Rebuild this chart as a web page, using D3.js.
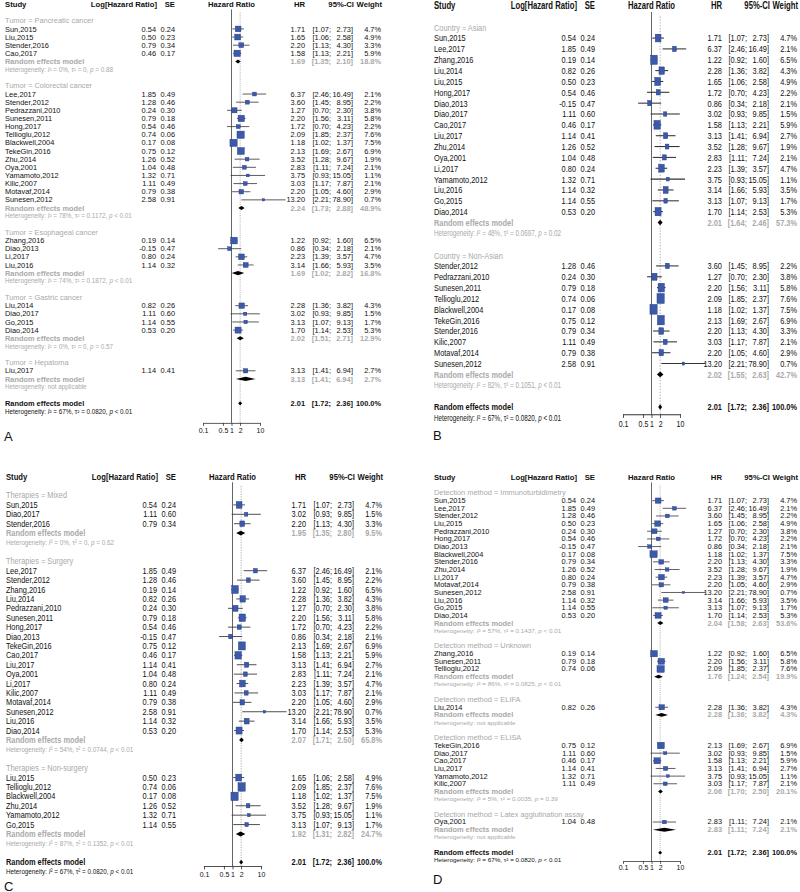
<!DOCTYPE html>
<html>
<head>
<meta charset="utf-8">
<script src="https://cdn.jsdelivr.net/npm/d3@7"></script>
<style>
body { margin: 0; background: #fff; }
svg { display: block; font-family: "Liberation Sans", Arial, sans-serif; }
</style>
</head>
<body>
<svg id="main" width="800" height="892"></svg>
<script>
// study level values, the same in all four panels
var studies = ["Sun,2015", "Liu,2015", "Stender,2016", "Cao,2017", "Lee,2017", "Stender,2012",
    "Pedrazzani,2010", "Sunesen,2011", "Hong,2017", "Tellioglu,2012", "Blackwell,2004", "TekeGin,2016",
    "Zhu,2014", "Oya,2001", "Yamamoto,2012", "Kilic,2007", "Motavaf,2014", "Sunesen,2012",
    "Zhang,2016", "Diao,2013", "Li,2017", "Liu,2016", "Liu,2014", "Diao,2017", "Go,2015",
    "Diao,2014", "Liu,2017"];
var logHR = [0.54, 0.50, 0.79, 0.46, 1.85, 1.28, 0.24, 0.79, 0.54, 0.74, 0.17, 0.75, 1.26, 1.04,
    1.32, 1.11, 0.79, 2.58, 0.19, -0.15, 0.80, 1.14, 0.82, 1.11, 1.14, 0.53, 1.14];
var seLogHR = [0.24, 0.23, 0.34, 0.17, 0.49, 0.46, 0.30, 0.18, 0.46, 0.06, 0.08, 0.12, 0.52, 0.48,
    0.71, 0.49, 0.38, 0.91, 0.14, 0.47, 0.24, 0.32, 0.26, 0.60, 0.55, 0.20, 0.41];
var hrValues = [1.71, 1.65, 2.20, 1.58, 6.37, 3.60, 1.27, 2.20, 1.72, 2.09, 1.18, 2.13, 3.52, 2.83,
    3.75, 3.03, 2.20, 13.20, 1.22, 0.86, 2.23, 3.14, 2.28, 3.02, 3.13, 1.70, 3.13];
var ciLower = [1.07, 1.06, 1.13, 1.13, 2.46, 1.45, 0.70, 1.56, 0.70, 1.85, 1.02, 1.69, 1.28, 1.11,
    0.93, 1.17, 1.05, 2.21, 0.92, 0.34, 1.39, 1.66, 1.36, 0.93, 1.07, 1.14, 1.41];
var ciUpper = [2.73, 2.58, 4.30, 2.21, 16.49, 8.95, 2.30, 3.11, 4.23, 2.37, 1.37, 2.67, 9.67, 7.24,
    15.05, 7.87, 4.60, 78.90, 1.60, 2.18, 3.57, 5.93, 3.82, 9.85, 9.13, 2.53, 6.94];
var weights = [4.7, 4.9, 3.3, 5.9, 2.1, 2.2, 3.8, 5.8, 2.2, 7.6, 7.5, 6.9, 1.9, 2.1, 1.1, 2.1, 2.9,
    0.7, 6.5, 2.1, 4.7, 3.5, 4.3, 1.5, 1.7, 5.3, 2.7];

var axisTicks = [0.1, 0.5, 1, 2, 10];

// overall random effects model: HR, lower, upper, weight ; heterogeneity I2, tau2, p
var overallPooled = [2.01, 1.72, 2.36, 100.0];
var overallHet = ["67%", "0.0820", "< 0.01"];

// A: tumor
var tumorGroups = ["Pancreatic cancer", "Colorectal cancer", "Esophageal cancer", "Gastric cancer", "Hepatoma"];
var tumorMembers = [
    ["Sun,2015", "Liu,2015", "Stender,2016", "Cao,2017"],
    ["Lee,2017", "Stender,2012", "Pedrazzani,2010", "Sunesen,2011", "Hong,2017", "Tellioglu,2012",
     "Blackwell,2004", "TekeGin,2016", "Zhu,2014", "Oya,2001", "Yamamoto,2012", "Kilic,2007",
     "Motavaf,2014", "Sunesen,2012"],
    ["Zhang,2016", "Diao,2013", "Li,2017", "Liu,2016"],
    ["Liu,2014", "Diao,2017", "Go,2015", "Diao,2014"],
    ["Liu,2017"]];
var tumorPooled = [[1.69, 1.35, 2.10, 18.8], [2.24, 1.73, 2.88, 48.9], [1.69, 1.02, 2.82, 16.8],
    [2.02, 1.51, 2.71, 12.9], [3.13, 1.41, 6.94, 2.7]];
var tumorHet = [["0%", "0", "= 0.88"], ["78%", "0.1172", "< 0.01"], ["74%", "0.1872", "< 0.01"],
    ["0%", "0", "= 0.57"], null];

// B: country
var countryGroups = ["Asian", "Non-Asian"];
var countryMembers = [
    ["Sun,2015", "Lee,2017", "Zhang,2016", "Liu,2014", "Liu,2015", "Hong,2017", "Diao,2013",
     "Diao,2017", "Cao,2017", "Liu,2017", "Zhu,2014", "Oya,2001", "Li,2017", "Yamamoto,2012",
     "Liu,2016", "Go,2015", "Diao,2014"],
    ["Stender,2012", "Pedrazzani,2010", "Sunesen,2011", "Tellioglu,2012", "Blackwell,2004",
     "TekeGin,2016", "Stender,2016", "Kilic,2007", "Motavaf,2014", "Sunesen,2012"]];
var countryPooled = [[2.01, 1.64, 2.46, 57.3], [2.02, 1.55, 2.63, 42.7]];
var countryHet = [["48%", "0.0697", "= 0.02"], ["82%", "0.1051", "< 0.01"]];

// C: therapies
var therapyGroups = ["Mixed", "Surgery", "Non-surgery"];
var therapyMembers = [
    ["Sun,2015", "Diao,2017", "Stender,2016"],
    ["Lee,2017", "Stender,2012", "Zhang,2016", "Liu,2014", "Pedrazzani,2010", "Sunesen,2011",
     "Hong,2017", "Diao,2013", "TekeGin,2016", "Cao,2017", "Liu,2017", "Oya,2001", "Li,2017",
     "Kilic,2007", "Motavaf,2014", "Sunesen,2012", "Liu,2016", "Diao,2014"],
    ["Liu,2015", "Tellioglu,2012", "Blackwell,2004", "Zhu,2014", "Yamamoto,2012", "Go,2015"]];
var therapyPooled = [[1.95, 1.35, 2.80, 9.5], [2.07, 1.71, 2.50, 65.8], [1.92, 1.31, 2.82, 24.7]];
var therapyHet = [["0%", "0", "= 0.62"], ["54%", "0.0744", "< 0.01"], ["87%", "0.1352", "< 0.01"]];

// D: detection method
var methodGroups = ["Immunoturbidimetry", "Unknown", "ELIFA", "ELISA", "Latex agglutination assay"];
var methodMembers = [
    ["Sun,2015", "Lee,2017", "Stender,2012", "Liu,2015", "Pedrazzani,2010", "Hong,2017",
     "Diao,2013", "Blackwell,2004", "Stender,2016", "Zhu,2014", "Li,2017", "Motavaf,2014",
     "Sunesen,2012", "Liu,2016", "Go,2015", "Diao,2014"],
    ["Zhang,2016", "Sunesen,2011", "Tellioglu,2012"],
    ["Liu,2014"],
    ["TekeGin,2016", "Diao,2017", "Cao,2017", "Liu,2017", "Yamamoto,2012", "Kilic,2007"],
    ["Oya,2001"]];
var methodPooled = [[2.04, 1.58, 2.63, 53.6], [1.76, 1.24, 2.54, 19.9], [2.28, 1.36, 3.82, 4.3],
    [2.06, 1.70, 2.50, 20.1], [2.83, 1.11, 7.24, 2.1]];
var methodHet = [["57%", "0.1437", "< 0.01"], ["86%", "0.0825", "< 0.01"], null,
    ["5%", "0.0035", "= 0.39"], null];

var ROW_H = 8.14;
var GRAY = "#a9a9a9";

// placement of the four panels on the page (cols = HR, CI lower, CI upper, weight right edges)
var panels = [
    {letter: "A", name: "Tumor", groups: tumorGroups, members: tumorMembers, pooled: tumorPooled, het: tumorHet,
     ox: 0, oy: 4.5, sy: 1, studyX: 5, cols: [305, 331, 353, 381], axisRow: 51.4, letterPos: [4, 441]},
    {letter: "B", name: "Country", groups: countryGroups, members: countryMembers, pooled: countryPooled, het: countryHet,
     ox: 420, oy: 5.5, sy: 1.333, studyX: 14, cols: [302, 327, 349, 377], axisRow: 37.65, letterPos: [433, 440]},
    {letter: "C", name: "Therapies", groups: therapyGroups, members: therapyMembers, pooled: therapyPooled, het: therapyHet,
     ox: 1, oy: 476.7, sy: 1.155, studyX: 5, cols: [305, 331, 353, 381], axisRow: 41.4, letterPos: [4, 891]},
    {letter: "D", name: "Detection method", groups: methodGroups, members: methodMembers, pooled: methodPooled, het: methodHet,
     ox: 420, oy: 477.7, sy: 0.94, studyX: 14, cols: [302, 327, 349, 377], axisRow: 50.1, letterPos: [433, 884]}
];

var f2 = function(v) { return v.toFixed(2); };
var pct = function(v) { return v.toFixed(1) + "%"; };

function buildRows(p) {
    var rows = [];
    var r = 2;
    p.groups.forEach(function(g, gi) {
        rows.push({kind: "label", row: r++, text: p.name + " = " + g});
        p.members[gi].forEach(function(s) {
            rows.push({kind: "study", row: r++, i: studies.indexOf(s)});
        });
        rows.push({kind: "pooled", row: r++, vals: p.pooled[gi], sub: true});
        rows.push({kind: "het", row: r++, het: p.het[gi], sub: true});
        r++;
    });
    rows.push({kind: "pooled", row: r++, vals: overallPooled, sub: false});
    rows.push({kind: "het", row: r++, het: overallHet, sub: false});
    return rows;
}

function hetText(sel, het) {
    if (!het) { sel.text("Heterogeneity: not applicable"); return; }
    sel.append("tspan").text("Heterogeneity: ");
    sel.append("tspan").attr("font-style", "italic").text("I");
    sel.append("tspan").text("\u00b2 = " + het[0] + ", \u03c4\u00b2 = " + het[1] + ", ");
    sel.append("tspan").attr("font-style", "italic").text("p");
    sel.append("tspan").text(" " + het[2]);
}

// HR, [lower; upper] and weight columns of one row
function numberCols(t, c, cy, v) {
    var cells = [[c[0], f2(v[0])], [c[1], "[" + f2(v[1]) + ";"], [c[2], f2(v[2]) + "]"], [c[3], pct(v[3])]];
    cells.forEach(function(cell) {
        t.append("text").attr("x", cell[0]).attr("y", cy).attr("dy", "0.35em")
            .attr("text-anchor", "end").text(cell[1]);
    });
}

function drawPanel(svg, p) {
    var g = svg.append("g")
        .attr("transform", "translate(" + p.ox + "," + p.oy + ") scale(1," + p.sy + ")");
    var x = d3.scaleLog().domain([0.1, 10]).range([203, 260]);
    var y = d3.scaleLinear().domain([0, 1]).range([0, ROW_H]);
    var side = d3.scaleSqrt().domain([0, 7.6]).range([0, 7.3]);
    var rows = buildRows(p);
    var c = p.cols;

    // header
    var head = g.append("g").attr("font-weight", "bold").attr("font-size", 7.7).attr("fill", "#111");
    var headers = [["Study", p.studyX, "start"], ["Log[Hazard Ratio]", 157, "end"], ["SE", 175, "end"],
        ["Hazard Ratio", x(1), "middle"], ["HR", c[0], "end"], ["95%-CI", c[3] - 27, "end"], ["Weight", c[3] + 1, "end"]];
    head.selectAll("text").data(headers).join("text")
        .attr("x", function(d) { return d[1]; })
        .attr("y", y(0)).attr("dy", "0.35em")
        .attr("text-anchor", function(d) { return d[2]; })
        .text(function(d) { return d[0]; });

    // reference lines
    g.append("line")
        .attr("x1", x(1)).attr("x2", x(1))
        .attr("y1", y(0.6)).attr("y2", y(p.axisRow))
        .attr("stroke", "#555").attr("stroke-width", 0.9);
    g.append("line")
        .attr("x1", x(overallPooled[0])).attr("x2", x(overallPooled[0]))
        .attr("y1", y(1)).attr("y2", y(p.axisRow))
        .attr("stroke", "#9a9a9a").attr("stroke-width", 0.8).attr("stroke-dasharray", "1,1.2");

    rows.forEach(function(d) {
        var cy = y(d.row);
        if (d.kind === "label") {
            g.append("text").attr("x", p.studyX).attr("y", cy).attr("dy", "0.35em")
                .attr("font-size", 7.4).attr("fill", GRAY).text(d.text);
        } else if (d.kind === "study") {
            var i = d.i;
            var t = g.append("g").attr("font-size", 7.4).attr("fill", "#111");
            t.append("text").attr("x", p.studyX).attr("y", cy).attr("dy", "0.35em").text(studies[i]);
            t.append("text").attr("x", 156).attr("y", cy).attr("dy", "0.35em").attr("text-anchor", "end").text(f2(logHR[i]));
            t.append("text").attr("x", 175).attr("y", cy).attr("dy", "0.35em").attr("text-anchor", "end").text(f2(seLogHR[i]));
            numberCols(t, c, cy, [hrValues[i], ciLower[i], ciUpper[i], weights[i]]);
            g.append("line")
                .attr("x1", x(ciLower[i])).attr("x2", x(ciUpper[i]))
                .attr("y1", cy).attr("y2", cy)
                .attr("stroke", "#333").attr("stroke-width", 0.8);
            var s = side(weights[i]);
            g.append("rect")
                .attr("x", x(hrValues[i]) - s / 2).attr("y", cy - s / 2)
                .attr("width", s).attr("height", s)
                .attr("fill", "#3d5aa8").attr("stroke", "#22388a").attr("stroke-width", 0.4);
        } else if (d.kind === "pooled") {
            var v = d.vals;
            var t2 = g.append("g").attr("font-size", 7.4).attr("font-weight", "bold")
                .attr("fill", d.sub ? GRAY : "#111");
            t2.append("text").attr("x", p.studyX).attr("y", cy).attr("dy", "0.35em").text("Random effects model");
            numberCols(t2, c, cy, v);
            var h = 2.1;
            g.append("path")
                .attr("d", "M" + x(v[1]) + "," + cy + "L" + x(v[0]) + "," + (cy - h) +
                    "L" + x(v[2]) + "," + cy + "L" + x(v[0]) + "," + (cy + h) + "Z")
                .attr("fill", "#000");
        } else if (d.kind === "het") {
            var ht = g.append("text").attr("x", p.studyX).attr("y", cy).attr("dy", "0.35em")
                .attr("font-size", 6.3).attr("fill", d.sub ? GRAY : "#111");
            hetText(ht, d.het);
        }
    });

    // x axis
    var ax = g.append("g")
        .attr("transform", "translate(0," + y(p.axisRow) + ")")
        .call(d3.axisBottom(x).tickValues(axisTicks).tickFormat(function(d) { return String(d); })
            .tickSize(3).tickSizeOuter(0));
    ax.select(".domain").attr("stroke", "#333").attr("stroke-width", 0.8);
    ax.selectAll(".tick line").attr("stroke", "#333").attr("stroke-width", 0.8);
    ax.selectAll(".tick text").attr("font-size", 7).attr("font-family", "Liberation Sans, Arial, sans-serif")
        .attr("fill", "#111").attr("y", 5);

    svg.append("text")
        .attr("x", p.letterPos[0]).attr("y", p.letterPos[1])
        .attr("font-size", 13).attr("fill", "#111")
        .text(p.letter);
}

var svg = d3.select("svg#main");
panels.forEach(function(p) { drawPanel(svg, p); });
</script>
</body>
</html>
